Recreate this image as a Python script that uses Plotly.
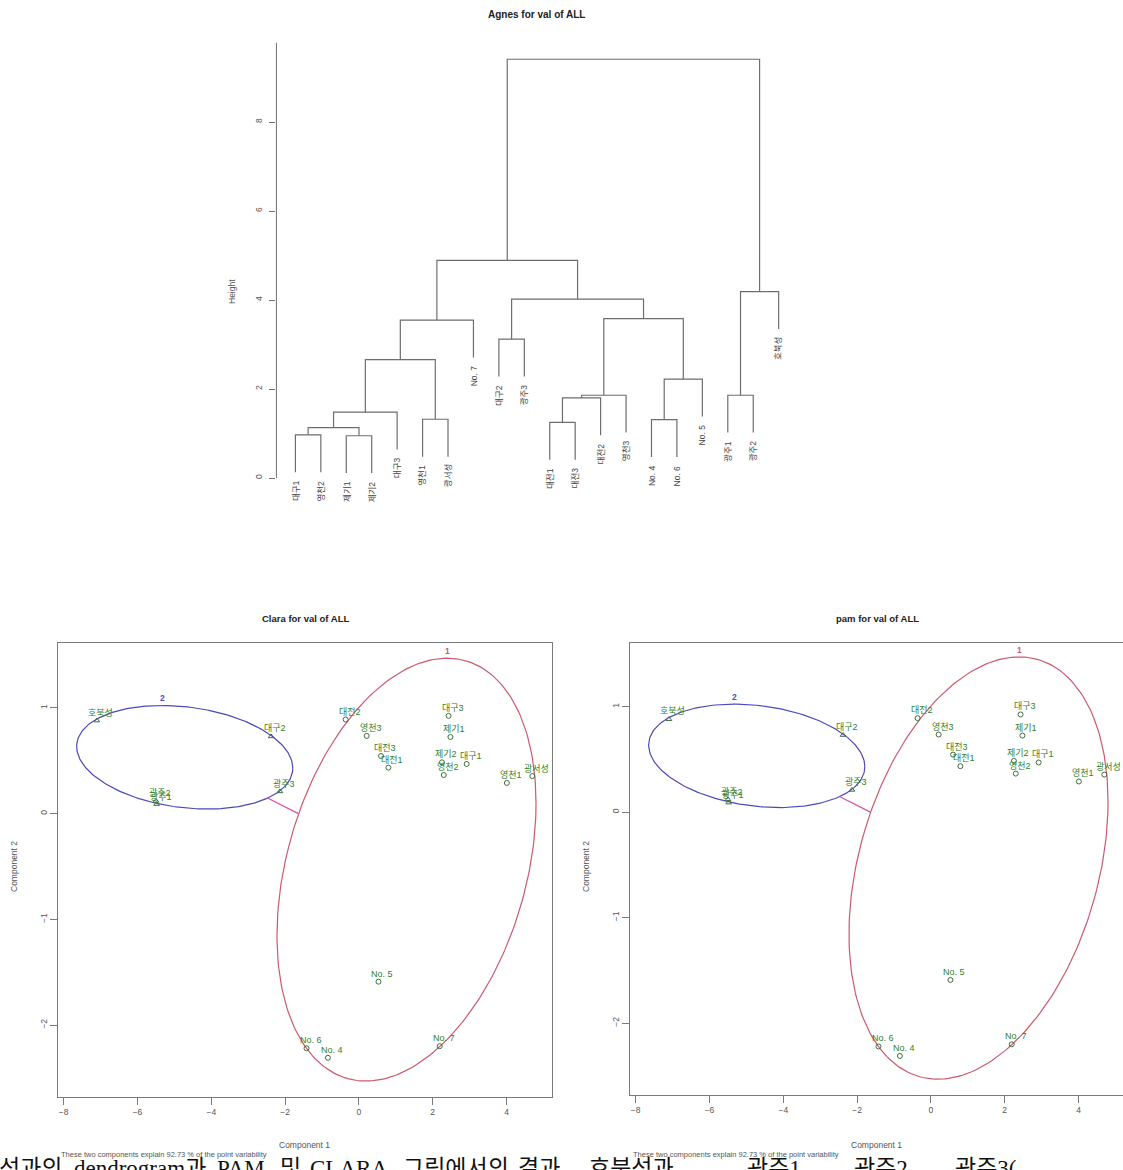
import numpy as np
import plotly.graph_objects as go

W, H = 1123, 1170

# ---------------- Dendrogram data (agnes) ----------------
leaf_labels = ["대구1", "영천2", "제기1", "제기2", "대구3", "영천1", "광서성", "No. 7",
               "대구2", "광주3", "대전1", "대전3", "대전2", "영천3", "No. 4", "No. 6",
               "No. 5", "광주1", "광주2", "호북성"]
merge_a = [-1, -3, 1, 3, -6, 4, 6, -9, -11, 9, 10, -15, 12, 11, 8, 7, -18, 17, 16]
merge_b = [-2, -4, 2, -5, -7, 5, -8, -10, -12, -13, -14, -16, -17, 13, 14, 15, -19, -20, 18]
merge_h = [0.97, 0.95, 1.13, 1.48, 1.32, 2.66, 3.55, 3.12, 1.25, 1.80, 1.86, 1.31, 2.22,
           3.58, 4.02, 4.89, 1.86, 4.19, 9.41]
hang = 0.84
height_ticks = [0, 2, 4, 6, 8]

# ---------------- Cluster plot data (clara / pam) ----------------
pt_labels = ["호북성", "대구2", "광주3", "광주2", "광주1", "대전2", "영천3", "대전3", "대전1",
             "대구3", "제기1", "제기2", "영천2", "대구1", "영천1", "광서성",
             "No. 5", "No. 6", "No. 4", "No. 7"]
pt_x = [-7.10, -2.38, -2.14, -5.50, -5.48, -0.36, 0.21, 0.60, 0.80,
        2.43, 2.48, 2.25, 2.30, 2.92, 4.01, 4.70,
        0.53, -1.42, -0.84, 2.19]
pt_y = [0.88, 0.73, 0.21, 0.12, 0.09, 0.89, 0.735, 0.545, 0.435,
        0.925, 0.725, 0.485, 0.365, 0.47, 0.29, 0.355,
        -1.59, -2.22, -2.31, -2.20]
pt_cluster = [2, 2, 2, 2, 2, 1, 1, 1, 1, 1, 1, 1, 1, 1, 1, 1, 1, 1, 1, 1]

# ellipse parameters: centre and shape matrix [[a, b], [b, c]]
ell_id = [1, 2]
ell_cx = [1.29, -4.72]
ell_cy = [-0.53, 0.533]
ell_a = [12.32, 8.58]
ell_b = [2.2, -0.30]
ell_c = [4.0, 0.24]
ell_color = ["#cc5a6e", "#4a4ab8"]
conn_x = [-2.49, -1.64]
conn_y = [0.15, 0.0]

x_ticks = [-8, -6, -4, -2, 0, 2, 4]
y_ticks = [-2, -1, 0, 1]

caption_words = ["석과의", "dendrogram과", "PAM", "및", "CLARA", "그림에서의", "결과.",
                 "호북성과", "광주1,", "광주2,", "광주3("]
caption_word_px = [-3, 72, 215, 278, 308, 401, 516, 587, 745, 852, 953]
footnote = "These two components explain 92.73 % of the point variability"

FONT = "Liberation Sans, Arial, Noto Sans CJK KR"
LINE = "#6e6e6e"
GREEN = "#2f7f2f"
TICKC = "#555555"


def px_x(p):
    return p / W


def px_y(p):
    return 1 - p / H


def paper_text(x, y, text, size, color="#555", angle=0, xanchor="center", yanchor="middle",
               family=FONT):
    return dict(x=px_x(x), y=px_y(y), xref="paper", yref="paper", text=text, showarrow=False,
                textangle=angle, xanchor=xanchor, yanchor=yanchor,
                font=dict(family=family, size=size, color=color))


fig = go.Figure()

# ---------------- dendrogram ----------------
n = len(leaf_labels)
node_x, node_h = {}, {}
leaf_end = [0.0] * n
for k in range(len(merge_a)):
    for ch in (merge_a[k], merge_b[k]):
        if ch < 0:
            leaf_end[-ch - 1] = merge_h[k] - hang


def child_xy(ch):
    if ch < 0:
        return -ch, leaf_end[-ch - 1]
    return node_x[ch], node_h[ch]


lx, ly = [], []
for k in range(len(merge_a)):
    xa, ha = child_xy(merge_a[k])
    xb, hb = child_xy(merge_b[k])
    h = merge_h[k]
    lx += [xa, xa, xb, xb, None]
    ly += [ha, h, h, hb, None]
    node_x[k + 1] = (xa + xb) / 2
    node_h[k + 1] = h

fig.add_trace(go.Scatter(x=lx, y=ly, mode="lines", line=dict(color=LINE, width=1.2),
                         xaxis="x", yaxis="y", hoverinfo="skip"))

annotations = []
for i, lab in enumerate(leaf_labels):
    annotations.append(dict(x=i + 1, y=leaf_end[i], xref="x", yref="y", text=lab,
                            showarrow=False, textangle=-90, xanchor="center", yanchor="top",
                            yshift=-6, font=dict(family=FONT, size=8.5, color="#444")))

shapes = [dict(type="line", xref="x domain", yref="y", x0=0, x1=0, y0=0, y1=9.78,
               line=dict(color=LINE, width=1))]

annotations.append(paper_text(536, 15, "<b>Agnes for val of ALL</b>", 10, "#222"))
annotations.append(paper_text(232, 292, "Height", 8.5, "#555", angle=-90))

# ---------------- cluster plots ----------------
t = np.linspace(0, 2 * np.pi, 241)
panels = [("x2", "y2", "Clara for val of ALL", 305, 0),
          ("x3", "y3", "pam for val of ALL", 877, 572)]
for xr, yr, title, tx, dx in panels:
    for j in range(len(ell_id)):
        sa = np.sqrt(ell_a[j])
        ex = ell_cx[j] + sa * np.cos(t)
        ey = ell_cy[j] + (ell_b[j] / sa) * np.cos(t) + np.sqrt(ell_c[j] - ell_b[j] ** 2 / ell_a[j]) * np.sin(t)
        fig.add_trace(go.Scatter(x=ex, y=ey, mode="lines", line=dict(color=ell_color[j], width=1.2),
                                 xaxis=xr, yaxis=yr, hoverinfo="skip"))
        topx = ell_cx[j] + ell_b[j] / np.sqrt(ell_c[j])
        topy = ell_cy[j] + np.sqrt(ell_c[j])
        annotations.append(dict(x=topx, y=topy, xref=xr, yref=yr, text="<b>%d</b>" % ell_id[j],
                                showarrow=False, xanchor="center", yanchor="bottom", yshift=0,
                                font=dict(family=FONT, size=8.5, color=ell_color[j])))
    fig.add_trace(go.Scatter(x=conn_x, y=conn_y, mode="lines", line=dict(color="#cc55aa", width=1.2),
                             xaxis=xr, yaxis=yr, hoverinfo="skip"))
    for cl, sym in ((1, "circle-open"), (2, "triangle-up-open")):
        xs = [pt_x[i] for i in range(len(pt_x)) if pt_cluster[i] == cl]
        ys = [pt_y[i] for i in range(len(pt_y)) if pt_cluster[i] == cl]
        fig.add_trace(go.Scatter(x=xs, y=ys, mode="markers",
                                 marker=dict(symbol=sym, size=5, color="#3d6e3d", line=dict(width=1)),
                                 xaxis=xr, yaxis=yr, hoverinfo="skip"))
    for i, lab in enumerate(pt_labels):
        annotations.append(dict(x=pt_x[i], y=pt_y[i], xref=xr, yref=yr, text=lab, showarrow=False,
                                xanchor="center", yanchor="middle",
                                xshift=4, yshift=8, font=dict(family=FONT, size=9, color=GREEN)))
    annotations.append(paper_text(tx, 618, "<b>%s</b>" % title, 9.5, "#222"))
    annotations.append(paper_text(tx - 1, 1145, "Component 1", 8.5, "#555"))
    annotations.append(paper_text(14 + dx, 867, "Component 2", 8.5, "#555", angle=-90))
    annotations.append(paper_text(59 + dx, 1154, footnote, 7.5, "#555", xanchor="left"))

for word, wx in zip(caption_words, caption_word_px):
    annotations.append(paper_text(wx, 1154, word, 23, "#111", xanchor="left", yanchor="top",
                                  family="Liberation Serif, Noto Sans CJK KR"))

ax_common = dict(showgrid=False, zeroline=False, showline=True, mirror=True,
                 linecolor="#7a7a7a", linewidth=1, ticks="outside", ticklen=7,
                 tickcolor="#7a7a7a", tickfont=dict(family=FONT, size=8.5, color=TICKC))

fig.update_layout(
    width=W, height=H, autosize=False,
    margin=dict(l=0, r=0, t=0, b=0),
    paper_bgcolor="white", plot_bgcolor="white", showlegend=False,
    xaxis=dict(domain=[px_x(276.4), px_x(798)], range=[0.253, 20.76], visible=False),
    yaxis=dict(domain=[px_y(544.75), px_y(37.45)], range=[-1.5, 9.9], showgrid=False,
               zeroline=False, showline=False, ticks="outside", ticklen=6, tickcolor=LINE,
               tickvals=height_ticks, tickangle=-90, ticklabelstandoff=4,
               tickfont=dict(family=FONT, size=8.5, color=TICKC)),
    xaxis2=dict(domain=[px_x(57.9), px_x(552)], range=[-8.157, 5.233], tickvals=x_ticks,
                anchor="y2", **ax_common),
    yaxis2=dict(domain=[px_y(1096.7), px_y(643)], range=[-2.678, 1.614], tickvals=y_ticks,
                tickangle=-90, anchor="x2", **ax_common),
    xaxis3=dict(domain=[px_x(629.9), 1.0], range=[-8.157, 5.206], tickvals=x_ticks,
                anchor="y3", **ax_common),
    yaxis3=dict(domain=[px_y(1095), px_y(643)], range=[-2.68, 1.602], tickvals=y_ticks,
                tickangle=-90, anchor="x3", **ax_common),
    annotations=annotations,
    shapes=shapes,
)

fig.write_html("out.html", config={"displayModeBar": False},
               post_script="document.body.style.margin='0';document.body.style.overflow='hidden';")
